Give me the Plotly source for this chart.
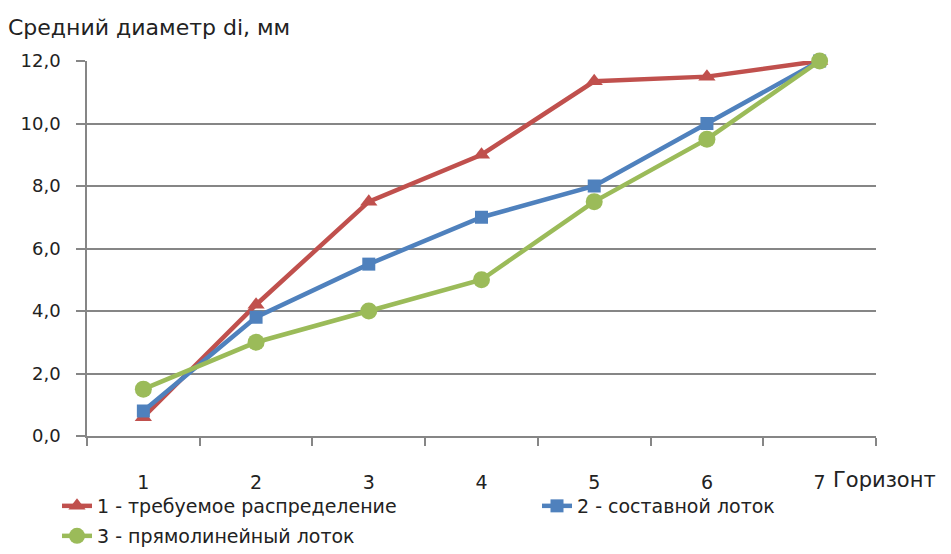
import plotly.graph_objects as go

# Horizon numbers along the x axis
horizons = ["1", "2", "3", "4", "5", "6", "7"]

# Mean diameter d_i, mm, for each distribution
required = [0.6, 4.2, 7.5, 9.0, 11.35, 11.5, 12.0]
composite = [0.8, 3.8, 5.5, 7.0, 8.0, 10.0, 12.0]
straight = [1.5, 3.0, 4.0, 5.0, 7.5, 9.5, 12.0]

names = [
    "1 - требуемое распределение",
    "2 - составной лоток",
    "3 - прямолинейный лоток",
]

RED = "#C0504D"
BLUE = "#4F81BD"
GREEN = "#9BBB59"
GRID = "#868686"
TEXT = "#222222"
FONT = "DejaVu Sans"

W, H = 951, 554
L, R, T, B = 87, 75, 61, 118
pw, ph = W - L - R, H - T - B


def px_x(x):
    return (x - L) / pw


def px_y(y):
    return (H - B - y) / ph


def legend_box(x, y):
    # legends positioned in page pixels (container coordinates)
    return dict(
        orientation="h", xref="container", yref="container",
        x=x / W, y=1 - y / H, xanchor="left", yanchor="top",
        font=dict(size=19, color=TEXT), bgcolor="rgba(0,0,0,0)", itemwidth=30,
    )


fig = go.Figure()
fig.add_trace(go.Scatter(
    x=horizons, y=required, name=names[0], mode="lines+markers",
    line=dict(color=RED, width=4.5),
    marker=dict(symbol="triangle-up", size=15, color=RED),
    cliponaxis=False, legend="legend",
))
fig.add_trace(go.Scatter(
    x=horizons, y=composite, name=names[1], mode="lines+markers",
    line=dict(color=BLUE, width=4.5),
    marker=dict(symbol="square", size=13, color=BLUE),
    cliponaxis=False, legend="legend2",
))
fig.add_trace(go.Scatter(
    x=horizons, y=straight, name=names[2], mode="lines+markers",
    line=dict(color=GREEN, width=4.5),
    marker=dict(symbol="circle", size=17, color=GREEN),
    cliponaxis=False, legend="legend3",
))

fig.update_layout(
    width=W, height=H,
    margin=dict(l=L, r=R, t=T, b=B, pad=0, autoexpand=False),
    paper_bgcolor="white", plot_bgcolor="white",
    separators=", ",
    font=dict(family=FONT, size=18, color=TEXT),
    showlegend=True,
    legend=legend_box(57, 487),
    legend2=legend_box(537, 487),
    legend3=legend_box(57, 517),
    xaxis=dict(
        type="category", range=[-0.5, len(horizons) - 0.5],
        showgrid=False, showline=True, linecolor=GRID, linewidth=1.5,
        ticks="outside", tickson="boundaries", ticklen=8, tickcolor=GRID, tickwidth=1.5,
        ticklabelstandoff=28, tickfont=dict(size=19, color=TEXT),
        zeroline=False, automargin=False,
    ),
    yaxis=dict(
        range=[0, 12], dtick=2, tickformat=".1f", showgrid=True, gridcolor=GRID, gridwidth=1.5,
        showline=True, linecolor=GRID, linewidth=1.5,
        ticks="outside", ticklen=9, tickcolor=GRID, tickwidth=1.5,
        ticklabelstandoff=12, tickfont=dict(size=18, color=TEXT), zeroline=False,
        automargin=False,
    ),
    annotations=[
        dict(text="Средний диаметр di, мм", xref="paper", yref="paper",
             x=px_x(6), y=px_y(28), xanchor="left", yanchor="middle",
             showarrow=False, font=dict(size=22, color=TEXT)),
        dict(text="Горизонт", xref="paper", yref="paper",
             x=px_x(831), y=px_y(480), xanchor="left", yanchor="middle",
             showarrow=False, font=dict(size=21, color=TEXT)),
    ],
)

fig.write_html("out.html")
